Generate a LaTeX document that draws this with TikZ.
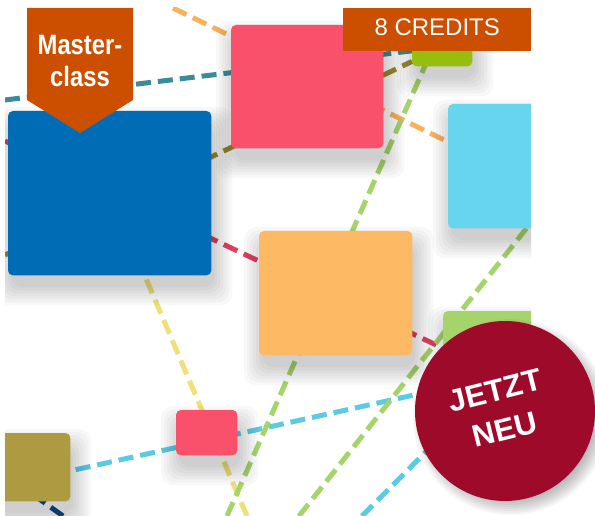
\documentclass[tikz,border=0pt]{standalone}
\usepackage{fontspec}
\setmainfont{Liberation Sans}
\newfontfamily\condfont[FakeStretch=0.85]{Liberation Sans}

\definecolor{blueB}{HTML}{006CB5}
\definecolor{pinkB}{HTML}{F9506B}
\definecolor{greenB}{HTML}{97BE0D}
\definecolor{cyanB}{HTML}{68D5EF}
\definecolor{orangeB}{HTML}{FDB964}
\definecolor{lgreenB}{HTML}{A6D46C}
\definecolor{oliveB}{HTML}{AE9A41}
\definecolor{badge}{HTML}{CC4F00}
\definecolor{badgeRed}{HTML}{9D0A2A}
\definecolor{lnOrange}{HTML}{F9B25C}
\definecolor{lnTeal}{HTML}{3A8C9A}
\definecolor{lnOlive}{HTML}{9C8B33}
\definecolor{lnRed}{HTML}{E0405E}
\definecolor{lnGreen}{HTML}{A5D46A}
\definecolor{lnYellow}{HTML}{EFE07A}
\definecolor{lnCyan}{HTML}{5CC9E5}
\definecolor{lnDark}{HTML}{0B4C8C}

\tikzset{
  slot/.style={inner sep=0pt, anchor=north west},
  card/.style={rounded corners=5pt},
  haze/.style={black, opacity=0.028, rounded corners=12pt},
  link/.style={line width=5pt, dash pattern=on 15pt off 7pt},
}

\begin{document}
\begin{tikzpicture}[x=1pt, y=-1pt, font=\sffamily]
    \fill[white] (0,0) rectangle (595,516);
    \useasboundingbox (0,0) rectangle (595,516);
    \begin{scope}
      \clip (5,8) rectangle (531,516);
      \foreach \nm/\x/\y/\w/\h in {blue/8/111/203/164, pink/231/25/152/123, green/412/28/60/38,
        cyan/448/104/100/124, orange/259/231/153/124, lgreen/443/311/117/129,
        smpink/176/410/61/45, olive/-5/433/75/68} {
        \node[slot, minimum width=\w pt, minimum height=\h pt] (\nm) at (\x,\y) {};
      };
      % loose ends at the edge of the picture
      \coordinate (ortop) at (173,8);
      \coordinate (tealL) at (5,100);
      \coordinate (olL) at (5,255);
      \coordinate (redL) at (5,141);
      \coordinate (grnB) at (227,516);
      \coordinate (grnBR) at (299,516);
      \coordinate (ylB) at (247,516);
      \coordinate (cyB) at (362,516);
      \coordinate (dbB) at (63,516);

      \draw[link, lnOrange] (ortop) -- (cyan);
      \draw[link, lnTeal] (tealL) -- (green);
      \draw[link, lnOlive] (olL) -- (green);
      \draw[link, lnRed] (redL) -- (lgreen);
      \draw[link, lnYellow] (ylB) -- (blue);
      \draw[link, lnCyan] ([yshift=-12pt]olive.center) -- (lgreen);
      \draw[link, lnCyan] (cyB) -- (lgreen);
      \draw[link, lnDark] (dbB) -- (olive.west);
      \draw[link, lnGreen] (grnB) -- ([xshift=-9pt]green.center);
      \draw[link, lnGreen] (grnBR) -- ([xshift=-22pt]cyan.south east);

      \foreach \nm/\col in {blue/blueB, pink/pinkB, green/greenB, cyan/cyanB, orange/orangeB,
        lgreen/lgreenB, smpink/pinkB, olive/oliveB} {
        \foreach \s in {18,15,...,0} {
          \fill[haze] ([shift={(3-\s,14-\s)}]\nm.north west) rectangle ([shift={(3+\s,12+\s)}]\nm.south east);
        };
        \fill[card, \col] (\nm.north west) rectangle (\nm.south east);
      };
    \end{scope}

    % badges
    \fill[badge] (27,8) -- (133,8) -- (133,100) -- (80,133) -- (27,100) -- cycle;
    \node[text=white, align=center, inner sep=0pt, font=\condfont\bfseries\fontsize{28}{32}\selectfont]
      (master) at (80,61) {Master-\\class};
    \node[fill=badge, text=white, anchor=north west, inner sep=0pt, minimum width=188pt,
      minimum height=43pt, text depth=5pt, font=\fontsize{24}{28}\selectfont] (credits) at (343,8) {8 CREDITS};
    \foreach \r in {98,96,...,84} {
      \fill[black, opacity=0.035] (511,417) circle (\r);
    };
    \node[circle, fill=badgeRed, minimum size=180pt, inner sep=0pt] (neu) at (505,411) {};
    \node[text=white, align=center, inner sep=0pt, rotate=14,
      font=\bfseries\fontsize{31}{40}\selectfont] (neutext) at (500,410) {JETZT\\NEU};
\end{tikzpicture}
\end{document}
